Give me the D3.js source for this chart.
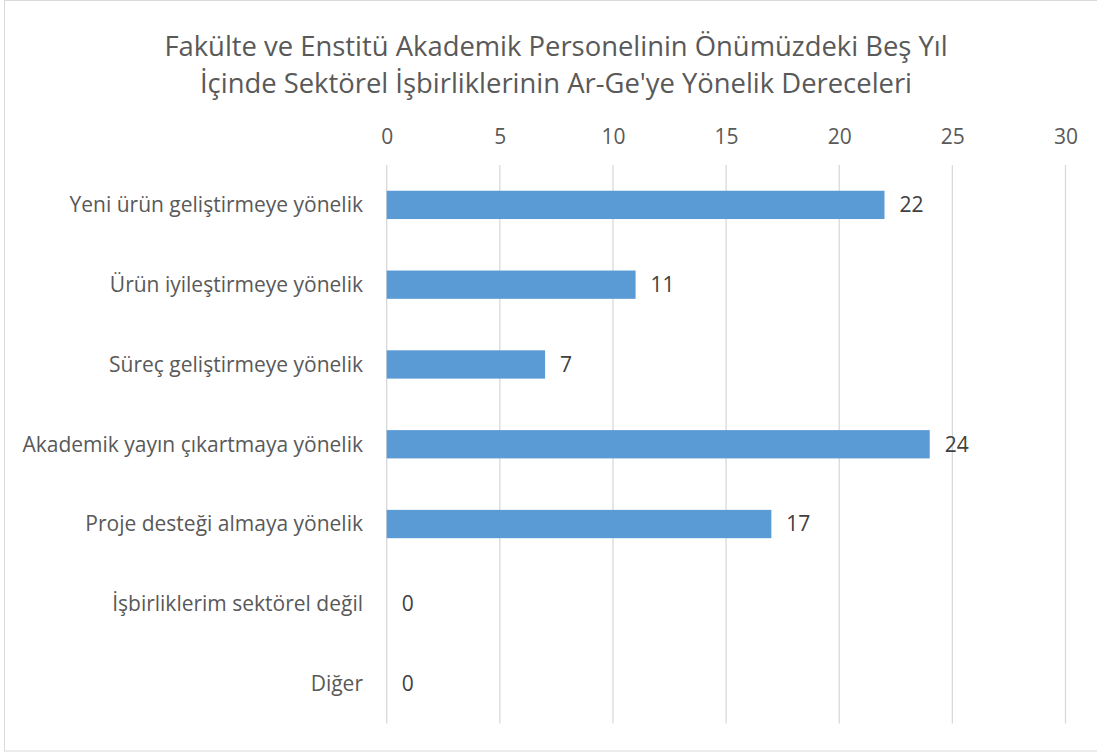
<!DOCTYPE html>
<html>
<head>
<meta charset="utf-8">
<script src="https://cdn.jsdelivr.net/npm/d3@7"></script>
<style>
  body { margin: 0; background: #fff; }
  svg { display: block; font-family: "Open Sans", sans-serif; }
</style>
</head>
<body>
<script>
// chart data
const categories = [
  "Yeni ürün geliştirmeye yönelik",
  "Ürün iyileştirmeye yönelik",
  "Süreç geliştirmeye yönelik",
  "Akademik yayın çıkartmaya yönelik",
  "Proje desteği almaya yönelik",
  "İşbirliklerim sektörel değil",
  "Diğer"
];
const values = [22, 11, 7, 24, 17, 0, 0];
const tickValues = [0, 5, 10, 15, 20, 25, 30];
const titleLines = [
  "Fakülte ve Enstitü Akademik Personelinin Önümüzdeki Beş Yıl",
  "İçinde Sektörel İşbirliklerinin Ar-Ge'ye Yönelik Dereceleri"
];

const width = 1097, height = 753;
const plot = {left: 386.7, right: 1065.5, top: 165, bottom: 723.5};

const svg = d3.select("body").append("svg")
  .attr("width", width)
  .attr("height", height);

// outer frame
svg.append("rect")
  .attr("x", 4.5).attr("y", 0.5)
  .attr("width", 1100).attr("height", 750.5)
  .attr("fill", "#fff")
  .attr("stroke", "#d9d9d9")
  .attr("stroke-width", 1);

// title
svg.append("text")
  .attr("x", 556).attr("y", 56)
  .attr("text-anchor", "middle")
  .attr("fill", "#595959")
  .style("font-size", "27.4px")
  .selectAll("tspan")
  .data(titleLines)
  .join("tspan")
  .attr("x", 556)
  .attr("dy", (d, i) => i === 0 ? 0 : 36.5)
  .text(d => d);

const xScale = d3.scaleLinear().domain([0, 30]).range([plot.left, plot.right]);
// gap width 182% like the office chart
const yScale = d3.scaleBand().domain(categories)
  .range([plot.top, plot.bottom])
  .paddingInner(0.6454)
  .paddingOuter(0.3227);

// gridlines
svg.append("g")
  .selectAll("line")
  .data(tickValues)
  .join("line")
  .attr("x1", d => xScale(d)).attr("x2", d => xScale(d))
  .attr("y1", plot.top).attr("y2", plot.bottom)
  .attr("stroke", "#d9d9d9")
  .attr("stroke-width", 1.3);

// top axis (labels only)
const xAxis = svg.append("g")
  .attr("transform", "translate(0," + 144 + ")")
  .call(d3.axisTop(xScale).tickValues(tickValues).tickSize(0).tickPadding(0));
xAxis.select(".domain").remove();
xAxis.selectAll("text")
  .attr("fill", "#595959")
  .style("font-size", "21px")
  .style("font-family", "'Open Sans', sans-serif");

// category axis
const yAxis = svg.append("g")
  .attr("transform", "translate(" + 363 + ",0)")
  .call(d3.axisLeft(yScale).tickSize(0).tickPadding(0));
yAxis.select(".domain").remove();
yAxis.selectAll("text")
  .attr("fill", "#595959")
  .attr("dy", "0.35em")
  .style("font-size", "21px")
  .style("font-family", "'Open Sans', sans-serif");

// bars
svg.append("g")
  .selectAll("rect")
  .data(values)
  .join("rect")
  .attr("x", xScale(0))
  .attr("y", (d, i) => yScale(categories[i]))
  .attr("width", d => xScale(d) - xScale(0))
  .attr("height", yScale.bandwidth())
  .attr("fill", "#5b9bd5");

// data labels
svg.append("g")
  .selectAll("text")
  .data(values)
  .join("text")
  .attr("x", d => xScale(d) + 15)
  .attr("y", (d, i) => yScale(categories[i]) + yScale.bandwidth() / 2)
  .attr("dy", "0.35em")
  .attr("fill", "#404040")
  .style("font-size", "21px")
  .text(d => d);
</script>
</body>
</html>
